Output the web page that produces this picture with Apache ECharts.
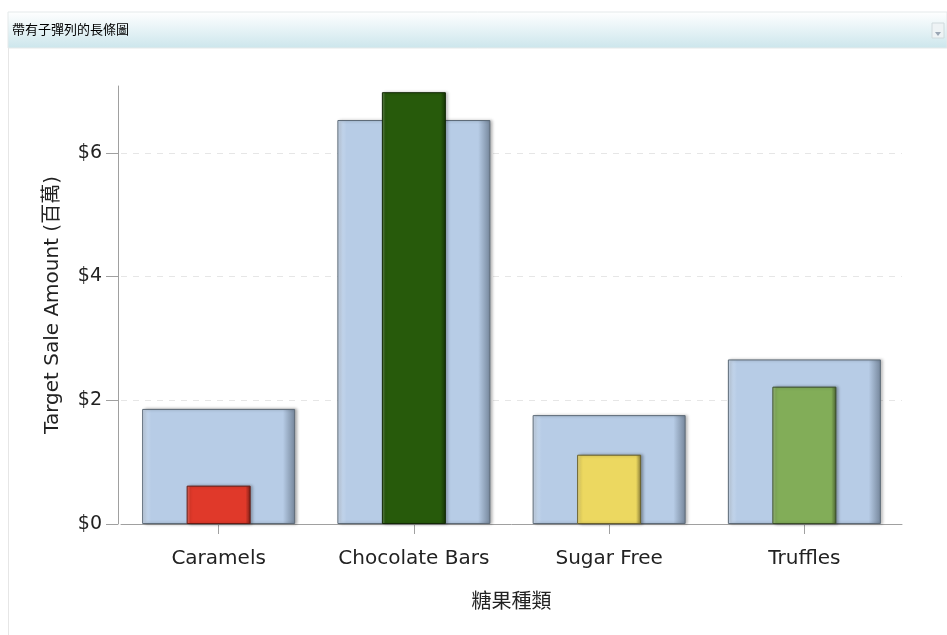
<!DOCTYPE html>
<html>
<head>
<meta charset="utf-8">
<script src="https://cdn.jsdelivr.net/npm/echarts@6/dist/echarts.min.js"></script>
<style>
  html, body { margin: 0; padding: 0; background: #fff; }
  #chart { width: 947px; height: 635px; }
</style>
</head>
<body>
<div id="chart"></div>
<script>
// Candy categories and sales figures (millions of dollars)
const categories = ['Caramels', 'Chocolate Bars', 'Sugar Free', 'Truffles'];
const targetSales = [1.86, 6.53, 1.76, 2.66];
const actualSales = [0.62, 6.98, 1.12, 2.22];
const actualColors = ['#e0392a', '#275a0b', '#ecd860', '#82ad58'];
const yTicks = [0, 2, 4, 6];

const FONT = '"DejaVu Sans", "Noto Sans CJK TC", sans-serif';

// Horizontal bevel: light left edge, flat body, shaded right edge
function bevel(base, light, dark) {
  return new echarts.graphic.LinearGradient(0, 0, 1, 0, [
    { offset: 0, color: light },
    { offset: 0.06, color: base },
    { offset: 0.92, color: base },
    { offset: 1, color: dark }
  ]);
}

function shade(hex, f) {
  const n = parseInt(hex.slice(1), 16);
  let r = (n >> 16) & 255, g = (n >> 8) & 255, b = n & 255;
  const mix = v => f >= 0 ? Math.round(v + (255 - v) * f) : Math.round(v * (1 + f));
  return 'rgb(' + mix(r) + ',' + mix(g) + ',' + mix(b) + ')';
}

const chart = echarts.init(document.getElementById('chart'));

chart.setOption({
  animation: false,
  backgroundColor: '#ffffff',
  textStyle: { fontFamily: FONT },
  graphic: [
    {
      type: 'rect',
      shape: { x: 8, y: 12, width: 939, height: 36 },
      style: {
        fill: new echarts.graphic.LinearGradient(0, 0, 0, 1, [
          { offset: 0, color: '#ffffff' },
          { offset: 1, color: '#cce6ec' }
        ]),
        stroke: '#e4e9ea', lineWidth: 1
      },
      z: 0
    },
    {
      type: 'line',
      shape: { x1: 8.5, y1: 48, x2: 8.5, y2: 635 },
      style: { stroke: '#e6e6e6', lineWidth: 1 }
    },
    {
      type: 'text',
      left: 12, top: 23,
      style: { text: '帶有子彈列的長條圖', fill: '#000', font: '13px "Noto Sans CJK TC"' }
    },
    {
      type: 'rect',
      shape: { x: 932, y: 23, width: 12, height: 15 },
      style: { fill: '#eef3f5', stroke: '#d0dadd', lineWidth: 1 }
    },
    {
      type: 'polygon',
      shape: { points: [[935, 32], [941, 32], [938, 36]] },
      style: { fill: '#9aa6b4' }
    }
  ],
  grid: { left: 121, right: 45, top: 86, bottom: 111 },
  xAxis: [
    {
      type: 'category',
      data: categories,
      name: '糖果種類',
      nameLocation: 'middle',
      nameGap: 66,
      nameTextStyle: { fontSize: 20, color: '#222', fontFamily: '"Noto Sans CJK TC"' },
      axisLine: { lineStyle: { color: '#a0a0a0' } },
      axisTick: { show: true, interval: 0, alignWithLabel: true, length: 10, lineStyle: { color: '#a0a0a0', width: 1 } },
      axisLabel: { interval: 0, hideOverlap: false, fontSize: 20, color: '#222', margin: 25 }
    },
    {
      type: 'category',
      data: categories,
      show: false
    }
  ],
  yAxis: {
    type: 'value',
    min: 0,
    max: 7.08,
    interval: 2,
    offset: 3,
    name: 'Target Sale Amount (百萬)',
    nameLocation: 'middle',
    nameGap: 55,
    nameTextStyle: { fontSize: 20, color: '#222' },
    axisLine: { show: true, lineStyle: { color: '#a0a0a0' } },
    axisTick: { show: true, length: 12, customValues: yTicks, lineStyle: { color: '#a0a0a0', width: 1 } },
    axisLabel: {
      fontSize: 19, color: '#222', margin: 16,
      customValues: yTicks,
      formatter: v => '$' + v
    },
    splitLine: {
      show: true,
      showMinLine: false,
      lineStyle: { color: '#e6e6e6', type: [6, 6] }
    }
  },
  series: [
    {
      name: 'Target',
      type: 'bar',
      xAxisIndex: 0,
      barWidth: 153,
      data: targetSales,
      itemStyle: {
        color: bevel('#b7cce6', '#cfdef0', '#74859a'),
        borderColor: '#5e6b78',
        borderWidth: 1,
        shadowColor: 'rgba(0,0,0,0.3)',
        shadowBlur: 3,
        shadowOffsetX: 2
      },
      z: 2
    },
    {
      name: 'Actual',
      type: 'bar',
      xAxisIndex: 1,
      barWidth: 64,
      data: actualSales.map((v, i) => ({
        value: v,
        itemStyle: {
          color: bevel(actualColors[i], shade(actualColors[i], 0.3), shade(actualColors[i], -0.45)),
          borderColor: shade(actualColors[i], -0.55)
        }
      })),
      itemStyle: {
        borderWidth: 1,
        shadowColor: 'rgba(0,0,0,0.3)',
        shadowBlur: 3,
        shadowOffsetX: 2
      },
      z: 3
    }
  ]
});
</script>
</body>
</html>
